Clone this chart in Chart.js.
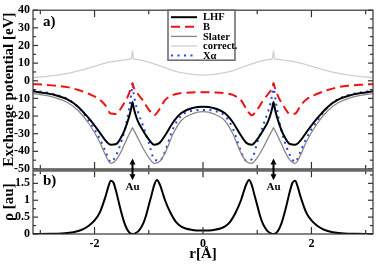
<!DOCTYPE html>
<html>
<head>
<meta charset="utf-8">
<script src="https://cdn.jsdelivr.net/npm/chart.js@4.4.1/dist/chart.umd.min.js"></script>
<style>
  html, body { margin: 0; padding: 0; background: #fff; }
  #wrap { position: relative; width: 376px; height: 267px; overflow: hidden; }
  #topChart { position: absolute; left: 0; top: 0; }
  #botChart { position: absolute; left: 0; top: 160px; }
</style>
</head>
<body>
<div id="wrap">
  <canvas id="topChart" width="376" height="182" style="width:376px;height:182px"></canvas>
  <canvas id="botChart" width="376" height="107" style="width:376px;height:107px"></canvas>
</div>
<script>
// r positions [Å] for the potentials
const rVals = [-3.135, -2.9, -2.7, -2.5, -2.3, -2.1, -1.9, -1.8, -1.7, -1.6, -1.5, -1.45, -1.4, -1.35, -1.32, -1.3, -1.28, -1.25, -1.2, -1.1, -1.0, -0.9, -0.8, -0.7, -0.55, -0.4, -0.2, 0,
               0.2, 0.4, 0.55, 0.7, 0.8, 0.9, 1.0, 1.1, 1.2, 1.25, 1.28, 1.3, 1.32, 1.35, 1.4, 1.45, 1.5, 1.6, 1.7, 1.8, 1.9, 2.1, 2.3, 2.5, 2.7, 2.9, 3.135];

// exchange potentials [eV]
const lhfVals = [-6.0, -7.0, -8.3, -10.6, -14.8, -21.5, -29.5, -33.8, -36.2, -35.8, -31.5, -28.2, -24, -19, -15, -12, -15, -18.5, -23, -28.5, -33.2, -36.2, -35.2, -31, -23.5, -18.3, -15.5, -14.7,
                 -15.5, -18.3, -23.5, -31, -35.2, -36.2, -33.2, -28.5, -23, -18.5, -15, -12, -15, -19, -24, -28.2, -31.5, -35.8, -36.2, -33.8, -29.5, -21.5, -14.8, -10.6, -8.3, -7.0, -6.0];
const bVals = [-1.9, -2.3, -2.8, -3.6, -5.2, -7.5, -10.8, -14, -18.6, -18.8, -15, -12.5, -9.8, -6, -3.5, -1.2, -3.5, -5.5, -7.5, -11.5, -16.3, -19.5, -16, -11, -8, -7, -6.6, -6.5,
               -6.6, -7, -8, -11, -16, -19.5, -16.3, -11.5, -7.5, -5.5, -3.5, -1.2, -3.5, -6, -9.8, -12.5, -15, -18.8, -18.6, -14, -10.8, -7.5, -5.2, -3.6, -2.8, -2.3, -1.9];
const slaterVals = [-7.3, -8.3, -9.8, -12.3, -17, -24.5, -35, -42, -46.8, -44.8, -39.5, -36, -32.8, -29.5, -27.8, -26.6, -27.8, -29.5, -32.5, -38.5, -43.5, -46.8, -45.8, -41, -30, -22.5, -18.8, -17.5,
                    -18.8, -22.5, -30, -41, -45.8, -46.8, -43.5, -38.5, -32.5, -29.5, -27.8, -26.6, -27.8, -29.5, -32.8, -36, -39.5, -44.8, -46.8, -42, -35, -24.5, -17, -12.3, -9.8, -8.3, -7.3];
const corrVals = [1.8, 2.4, 3.2, 4.2, 5.6, 7.3, 9.2, 10.0, 10.7, 11.2, 11.6, 11.8, 12.0, 12.2, 12.5, 17, 12.5, 12.2, 12.0, 11.4, 10.6, 9.6, 8.5, 7.4, 5.8, 4.6, 3.6, 3.2,
                  3.6, 4.6, 5.8, 7.4, 8.5, 9.6, 10.6, 11.4, 12.0, 12.2, 12.5, 17, 12.5, 12.2, 12.0, 11.8, 11.6, 11.2, 10.7, 10.0, 9.2, 7.3, 5.6, 4.2, 3.2, 2.4, 1.8];
const xaVals = [-5.5, -6.6, -8.0, -10.3, -15, -23, -33, -40, -46, -42, -34, -28.5, -22, -13, -7, -2.5, -7, -12, -17.5, -26, -35, -44.5, -45.3, -40, -27, -19.8, -17, -16.5,
                -17, -19.8, -27, -40, -45.3, -44.5, -35, -26, -17.5, -12, -7, -2.5, -7, -13, -22, -28.5, -34, -42, -46, -40, -33, -23, -15, -10.3, -8.0, -6.6, -5.5];

// electron density [au]
const rhoR = [-3.135, -2.8, -2.5, -2.3, -2.2, -2.1, -2.0, -1.9, -1.8, -1.75, -1.7, -1.65, -1.6, -1.55, -1.5, -1.45, -1.4, -1.35, -1.3, -1.25, -1.2, -1.15, -1.1, -1.05, -1.0, -0.95, -0.9, -0.85, -0.8, -0.75, -0.7, -0.6, -0.5, -0.4, -0.2, 0,
              0.2, 0.4, 0.5, 0.6, 0.7, 0.75, 0.8, 0.85, 0.9, 0.95, 1.0, 1.05, 1.1, 1.15, 1.2, 1.25, 1.3, 1.35, 1.4, 1.45, 1.5, 1.55, 1.6, 1.65, 1.7, 1.75, 1.8, 1.9, 2.0, 2.1, 2.2, 2.3, 2.5, 2.8, 3.135];
const rhoVals = [0.0, 0.005, 0.03, 0.09, 0.15, 0.25, 0.4, 0.65, 1.1, 1.38, 1.58, 1.52, 1.25, 0.92, 0.6, 0.33, 0.14, 0.03, 0.0, 0.02, 0.07, 0.17, 0.32, 0.55, 0.85, 1.15, 1.45, 1.6, 1.48, 1.25, 1.0, 0.63, 0.36, 0.22, 0.12, 0.1,
                 0.12, 0.22, 0.36, 0.63, 1.0, 1.25, 1.48, 1.6, 1.45, 1.15, 0.85, 0.55, 0.32, 0.17, 0.07, 0.02, 0.0, 0.03, 0.14, 0.33, 0.6, 0.92, 1.25, 1.52, 1.58, 1.38, 1.1, 0.65, 0.4, 0.25, 0.15, 0.09, 0.03, 0.005, 0.0];

const xTickVals = [-2, 0, 2];
const xMinorVals = [-3, -1, 1, 3];
const potTickVals = [-50, -40, -30, -20, -10, 0, 10, 20, 30, 40];
const potMinorVals = [-45, -35, -25, -15, -5, 5, 15, 25, 35];
const rhoTickVals = [0, 0.5, 1, 1.5];
const rhoMinorVals = [0.25, 0.75, 1.25, 1.75];
const auPos = [-1.3, 1.3];

const serif = "'Liberation Serif', 'DejaVu Serif', serif";
Chart.defaults.font.family = serif;
Chart.defaults.font.weight = 'bold';
Chart.defaults.font.size = 12;
Chart.defaults.color = '#000';

const pts = (xs, ys) => xs.map((x, i) => ({ x: x, y: ys[i] }));

// box round the plot with inward ticks
const framePlugin = {
  id: 'frame',
  afterDatasetsDraw(chart, args, o) {
    const { ctx, chartArea: a, scales } = chart;
    const x = scales.x, y = scales.y;
    ctx.save();
    ctx.strokeStyle = '#333';
    ctx.lineWidth = 1.2;
    const tick = (px, py, dx, dy) => {
      ctx.beginPath(); ctx.moveTo(px, py); ctx.lineTo(px + dx, py + dy); ctx.stroke();
    };
    xTickVals.forEach(v => { const p = x.getPixelForValue(v); tick(p, a.top, 0, 7); tick(p, a.bottom, 0, -7); });
    xMinorVals.forEach(v => { const p = x.getPixelForValue(v); tick(p, a.top, 0, 4); tick(p, a.bottom, 0, -4); });
    o.yMajor.forEach(v => { const p = y.getPixelForValue(v); tick(a.left, p, 5, 0); tick(a.right, p, -5, 0); });
    o.yMinor.forEach(v => { const p = y.getPixelForValue(v); tick(a.left, p, 3, 0); tick(a.right, p, -3, 0); });
    ctx.strokeRect(a.left, a.top, a.width, a.height);
    if (o.sepTop) {
      ctx.strokeStyle = '#666';
      ctx.lineWidth = 3;
      ctx.beginPath(); ctx.moveTo(a.left, a.top); ctx.lineTo(a.right, a.top); ctx.stroke();
    }
    ctx.restore();
  }
};

function arrowHead(ctx, x, tipY, dir) {
  ctx.beginPath();
  ctx.moveTo(x, tipY);
  ctx.lineTo(x - 3, tipY + dir * 6);
  ctx.lineTo(x + 3, tipY + dir * 6);
  ctx.closePath();
  ctx.fill();
}

const topDeco = {
  id: 'topDeco',
  afterDraw(chart) {
    const { ctx, chartArea: a, scales } = chart;
    ctx.save();
    // panel label
    ctx.fillStyle = '#000';
    ctx.font = 'bold 15px ' + serif;
    ctx.textBaseline = 'middle';
    ctx.fillText('a)', a.left + 10, a.top + 12);
    // upper halves of the Au arrows
    ctx.strokeStyle = '#000';
    ctx.lineWidth = 2;
    auPos.forEach(v => {
      const px = scales.x.getPixelForValue(v);
      const py = scales.y.getPixelForValue(-44);
      ctx.beginPath(); ctx.moveTo(px, py + 3); ctx.lineTo(px, a.bottom); ctx.stroke();
      arrowHead(ctx, px, py, 1);
    });
    // legend
    const lx = a.left + 135, ly = a.top, lw = 67, lh = 50;
    ctx.fillStyle = '#fff';
    ctx.fillRect(lx, ly, lw, lh);
    ctx.strokeStyle = '#666';
    ctx.lineWidth = 1.5;
    ctx.strokeRect(lx, ly, lw, lh);
    ctx.font = 'bold 10.5px ' + serif;
    chart.data.datasets.forEach((ds, i) => {
      const yy = ly + 7 + i * 9.6;
      ctx.strokeStyle = ds.borderColor;
      ctx.lineWidth = ds.borderWidth;
      ctx.setLineDash(ds.borderDash || []);
      ctx.beginPath(); ctx.moveTo(lx + 3, yy); ctx.lineTo(lx + 29, yy); ctx.stroke();
      ctx.setLineDash([]);
      ctx.fillStyle = '#000';
      ctx.fillText(ds.label, lx + 35, yy + 0.5);
    });
    ctx.restore();
  }
};

const botDeco = {
  id: 'botDeco',
  afterDraw(chart) {
    const { ctx, chartArea: a, scales } = chart;
    ctx.save();
    ctx.fillStyle = '#000';
    ctx.font = 'bold 15px ' + serif;
    ctx.textBaseline = 'middle';
    ctx.fillText('b)', a.left + 10, a.top + 11);
    ctx.strokeStyle = '#000';
    ctx.lineWidth = 2;
    ctx.font = 'bold 11px ' + serif;
    ctx.textAlign = 'center';
    auPos.forEach(v => {
      const px = scales.x.getPixelForValue(v);
      const py = scales.y.getPixelForValue(1.59);
      ctx.beginPath(); ctx.moveTo(px, a.top - 2); ctx.lineTo(px, py - 3); ctx.stroke();
      arrowHead(ctx, px, py, -1);
      ctx.fillText('Au', px, scales.y.getPixelForValue(1.4));
    });
    ctx.restore();
  }
};

const fixY = s => { s.width = 33; };

new Chart(document.getElementById('topChart'), {
  type: 'line',
  data: {
    datasets: [
      { label: 'LHF', data: pts(rVals, lhfVals), borderColor: '#000', borderWidth: 2 },
      { label: 'B', data: pts(rVals, bVals), borderColor: '#ee1111', borderWidth: 2, borderDash: [9, 5] },
      { label: 'Slater', data: pts(rVals, slaterVals), borderColor: '#888', borderWidth: 1.3 },
      { label: 'correct.', data: pts(rVals, corrVals), borderColor: '#d0d0d0', borderWidth: 1.3 },
      { label: 'X\u03b1', data: pts(rVals, xaVals), borderColor: '#2244ee', borderWidth: 2, borderDash: [2, 4.5] }
    ]
  },
  options: {
    responsive: false,
    animation: false,
    layout: { padding: { top: 4, right: 3, bottom: 13, left: 0 } },
    elements: { point: { radius: 0 }, line: { cubicInterpolationMode: 'monotone' } },
    scales: {
      x: { type: 'linear', display: false, min: -3.135, max: 3.135 },
      y: {
        min: -50, max: 40,
        afterFit: fixY,
        afterBuildTicks: s => { s.ticks = potTickVals.map(v => ({ value: v })); },
        grid: { display: false, drawTicks: false },
        border: { display: false },
        ticks: { padding: 3, callback: v => String(v) },
        title: { display: true, text: 'Exchange potential [eV]', font: { size: 15, weight: 'bold' }, padding: 0 }
      }
    },
    plugins: {
      legend: { display: false },
      tooltip: { enabled: false },
      frame: { yMajor: potTickVals, yMinor: potMinorVals, sepTop: false }
    }
  },
  plugins: [framePlugin, topDeco]
});

new Chart(document.getElementById('botChart'), {
  type: 'line',
  data: {
    datasets: [
      { label: 'rho', data: pts(rhoR, rhoVals), borderColor: '#000', borderWidth: 2 }
    ]
  },
  options: {
    responsive: false,
    animation: false,
    layout: { padding: { top: 9, right: 3, bottom: 0, left: 0 } },
    elements: { point: { radius: 0 }, line: { cubicInterpolationMode: 'monotone' } },
    scales: {
      x: {
        type: 'linear', min: -3.135, max: 3.135,
        afterFit: s => { s.height = 33; },
        afterBuildTicks: s => { s.ticks = xTickVals.map(v => ({ value: v })); },
        grid: { display: false, drawTicks: false },
        border: { display: false },
        ticks: { padding: 3, maxRotation: 0, callback: v => String(v) },
        title: { display: true, text: 'r[\u00c5]', font: { size: 15, weight: 'bold' }, padding: { top: 0, bottom: 4 } }
      },
      y: {
        min: 0, max: 1.89,
        afterFit: fixY,
        afterBuildTicks: s => { s.ticks = rhoTickVals.map(v => ({ value: v })); },
        grid: { display: false, drawTicks: false },
        border: { display: false },
        ticks: { padding: 3, callback: v => String(v) },
        title: { display: true, text: '\u03c1 [au]', font: { size: 15, weight: 'bold' }, padding: 0 }
      }
    },
    plugins: {
      legend: { display: false },
      tooltip: { enabled: false },
      frame: { yMajor: rhoTickVals, yMinor: rhoMinorVals, sepTop: true }
    }
  },
  plugins: [framePlugin, botDeco]
});
</script>
</body>
</html>
